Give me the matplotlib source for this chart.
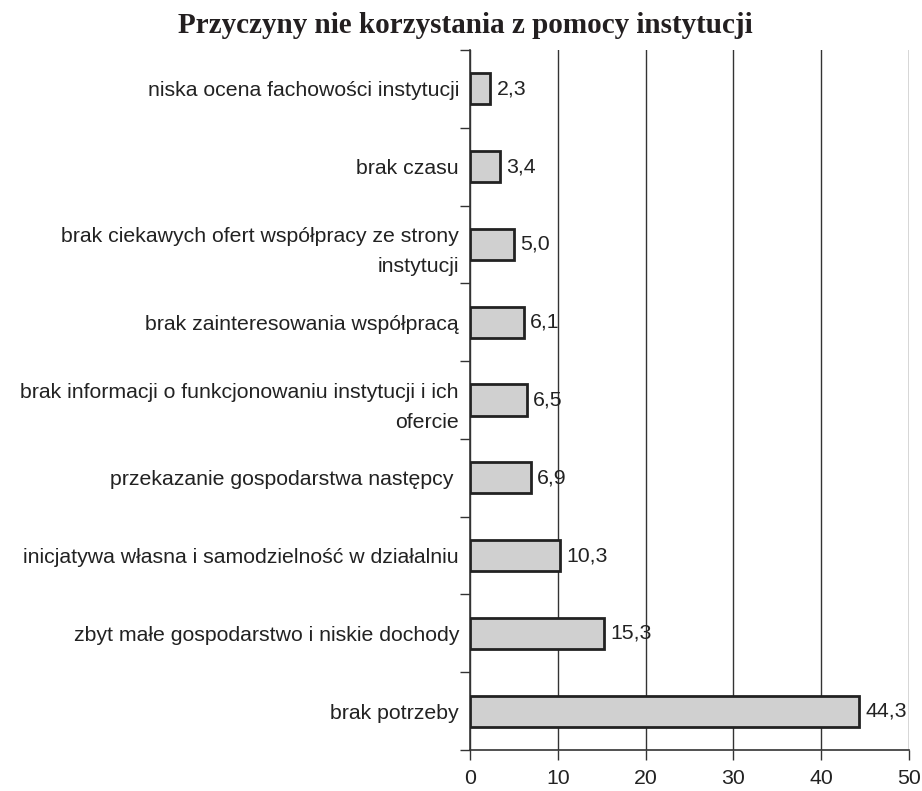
import matplotlib.pyplot as plt
import numpy as np

# data (bottom to top)
categories = [
    'brak potrzeby',
    'zbyt małe gospodarstwo i niskie dochody',
    'inicjatywa własna i samodzielność w działalniu',
    'przekazanie gospodarstwa następcy ',
    'brak informacji o funkcjonowaniu instytucji i ich\nofercie',
    'brak zainteresowania współpracą',
    'brak ciekawych ofert współpracy ze strony\ninstytucji',
    'brak czasu',
    'niska ocena fachowości instytucji',
]
values = [44.3, 15.3, 10.3, 6.9, 6.5, 6.1, 5.0, 3.4, 2.3]
value_labels = ['44,3', '15,3', '10,3', '6,9', '6,5', '6,1', '5,0', '3,4', '2,3']
x_ticks = [0, 10, 20, 30, 40, 50]

plt.rcParams['font.family'] = ['Liberation Sans', 'DejaVu Sans']
fs = 15.3

fig = plt.figure(figsize=(9.22, 7.91), dpi=100)
ax = fig.add_axes([0.5098, 0.0518, 0.986 - 0.5098, 0.9368 - 0.0518])

y = np.arange(len(categories))
ax.barh(y, values, height=0.4, color='#d0d0d0', edgecolor='#222222', linewidth=2, zorder=3)

for yi, v, lab in zip(y, values, value_labels):
    ax.annotate(lab, (v, yi), xytext=(4.5, 0), textcoords='offset points',
                va='center', ha='left', fontsize=fs, color='#222222')

ax.set_xlim(0, 50)
ax.set_ylim(-0.5, len(categories) - 0.5)
ax.set_xticks(x_ticks)
ax.set_xticklabels([str(t) for t in x_ticks], fontsize=fs, color='#222222')
ax.set_yticks(y)
ax.set_yticklabels(categories, fontsize=fs, color='#222222', linespacing=1.7)
ax.set_yticks(np.arange(len(categories) + 1) - 0.5, minor=True)
ax.tick_params(axis='y', which='major', length=0, pad=8)
ax.tick_params(axis='y', which='minor', length=7, width=1, color='#333333')
ax.tick_params(axis='x', length=7, width=1, color='#333333', pad=7)

ax.grid(axis='x', color='#333333', linewidth=1, zorder=0)
for s in ['top', 'right']:
    ax.spines[s].set_visible(False)
for s in ['left', 'bottom']:
    ax.spines[s].set_color('#333333')
    ax.spines[s].set_linewidth(1.2)

fig.text(0.505, 1 - 33 / 791, 'Przyczyny nie korzystania z pomocy instytucji',
         ha='center', va='baseline', fontsize=21, fontweight='bold',
         family=['Liberation Serif', 'DejaVu Serif'], color='#231f20')

fig.savefig('out.png', dpi=100)
